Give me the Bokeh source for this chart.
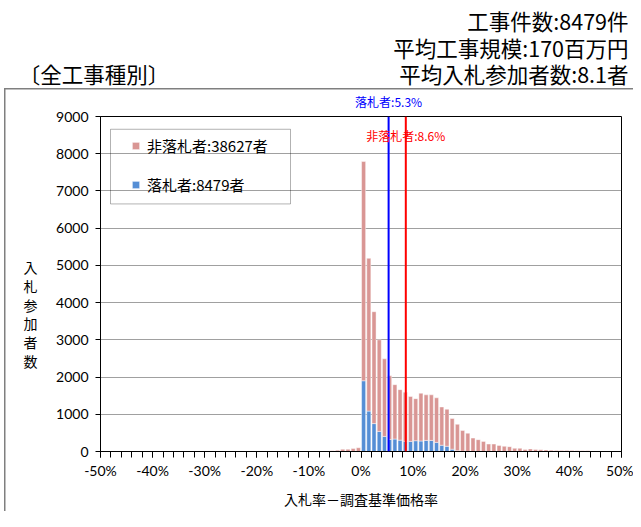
from bokeh.plotting import figure
from bokeh.models import (ColumnDataSource, Range1d, SingleIntervalTicker, PrintfTickFormatter,
                          Legend, LegendItem, Span, Label, BoxAnnotation)
from bokeh.embed import file_html
from bokeh.resources import INLINE

# ---- data ----
bin_start = list(range(-8, 49))  # lower edge of each 1% bin (bid rate - base rate)
winners = [0, 0, 0, 0, 0, 0, 0, 0,
           1900, 1085, 750, 540, 405, 325, 335, 305, 275, 272,
           290, 282, 298, 298, 245, 168, 141, 62, 22, 5,
           0, 0, 0, 0, 0, 0, 0, 0, 0, 0, 0, 0, 0, 0, 0, 0, 0, 0, 0, 0, 0, 0, 0, 0, 0, 0, 0]
losers = [5, 10, 18, 35, 60, 60, 80, 100,
          5890, 4105, 3005, 2460, 2085, 1707, 1460, 1357, 1317, 1206,
          1130, 1283, 1224, 1224, 1197, 1028, 994, 826, 708, 558,
          492, 360, 318, 272, 200, 200, 160, 140, 130, 85, 85, 55, 70, 55, 45, 40, 35,
          30, 25, 25, 25, 20, 20, 20, 15, 5, 5, 15, 15]
win_mean = 5.3
lose_mean = 8.6
n_winners = 8479
n_losers = 38627
title_lines = ["工事件数:8479件", "平均工事規模:170百万円", "平均入札参加者数:8.1者"]
category = "〔全工事種別〕"
y_label = "入札参加者数"
x_label = "入札率－調査基準価格率"

X_MIN, X_MAX = -50, 50
Y_MIN, Y_MAX = 0, 9000

PINK = "#D99694"
BLUE = "#558ED5"
JP = "Noto Sans CJK JP"
NUM = "Lato"
GREY = "#7F7F7F"

# page geometry (pixels)
W, H = 633, 511
FX0, FX1 = 100, 621       # plot frame left/right
FY0, FY1 = 457, 116       # plot frame bottom/top


def dx(px):
    return X_MIN + (px - FX0) * (X_MAX - X_MIN) / (FX1 - FX0)


def dy(py):
    return Y_MIN + (FY0 - py) * (Y_MAX - Y_MIN) / (FY0 - FY1)


src = ColumnDataSource(dict(
    x=[b + 0.5 for b in bin_start],
    win=winners,
    lose=losers,
))

p = figure(width=W, height=H, x_range=Range1d(X_MIN, X_MAX), y_range=Range1d(Y_MIN, Y_MAX),
           output_backend="svg", toolbar_location=None,
           min_border_left=FX0, min_border_right=W - FX1, min_border_top=FY1, min_border_bottom=H - FY0)
p.background_fill_color = "white"
p.border_fill_color = None
p.outline_line_color = "black"
p.outline_line_width = 1
# grey edges of the outer panel (top and left; the others fall outside the picture)
p.styles = {"background": (f"linear-gradient({GREY},{GREY}) 4px 88px / 1.5px 100% no-repeat, "
                           f"linear-gradient({GREY},{GREY}) 4px 88px / 100% 1.5px no-repeat, white")}

rs = p.vbar_stack(["win", "lose"], x="x", width=0.78, fill_color=[BLUE, PINK],
                  line_color="white", line_alpha=0.55, line_width=0.8, source=src)
r_win, r_lose = rs

xt = SingleIntervalTicker(interval=10, num_minor_ticks=5)
yt = SingleIntervalTicker(interval=1000, num_minor_ticks=0)
p.xaxis.ticker = xt
p.yaxis.ticker = yt
p.ygrid.ticker = yt
p.xaxis.formatter = PrintfTickFormatter(format="%d%%")
p.xgrid.visible = False
p.ygrid.grid_line_color = "#404040"
p.ygrid.grid_line_dash = "1 1"
p.ygrid.grid_line_width = 1

for ax in (p.xaxis[0], p.yaxis[0]):
    ax.axis_line_color = "black"
    ax.major_tick_line_color = "black"
    ax.minor_tick_line_color = "black"
    ax.major_tick_in = 0
    ax.minor_tick_in = 0
    ax.major_label_text_font = NUM
    ax.major_label_text_font_size = "14px"
    ax.major_label_text_color = "black"

p.xaxis.major_tick_out = 6
p.xaxis.minor_tick_out = 6
p.xaxis.major_label_standoff = 4
p.yaxis.major_tick_out = 5
p.yaxis.minor_tick_out = 0
p.yaxis.major_label_standoff = 7

p.xaxis.axis_label = x_label
p.xaxis.axis_label_text_font = JP
p.xaxis.axis_label_text_font_size = "14px"
p.xaxis.axis_label_text_font_style = "normal"
p.xaxis.axis_label_text_color = "black"
p.xaxis.axis_label_standoff = 7

# headings: one right-aligned block; the category tag shares the last line
heading_block = "\n".join([title_lines[0], title_lines[1],
                           category + "\u3000" * 11 + "\u2009" + title_lines[2]])
p.add_layout(Label(x=dx(628), y=dy(45.5), text=heading_block, text_align="right",
                   text_baseline="middle", text_font=JP, text_font_size="21.5px",
                   text_line_height=0.851, text_color="black"), "above")

# average lines
p.add_layout(Span(location=win_mean, dimension="height", line_color="#0000FF", line_width=2))
p.add_layout(Span(location=lose_mean, dimension="height", line_color="#FF0000", line_width=2))
p.add_layout(Label(x=win_mean, y=Y_MAX, y_offset=15, text=f"落札者:{win_mean}%",
                   text_align="center", text_baseline="middle", text_font=JP,
                   text_font_size="12px", text_color="#0000FF"), "above")
p.add_layout(Label(x=lose_mean, y=Y_MAX, y_offset=-10, text=f"非落札者:{lose_mean}%",
                   text_align="center", text_baseline="top", text_font=JP,
                   text_font_size="12px", text_color="#FF0000"))

# legend box + legend
p.add_layout(BoxAnnotation(left=dx(110), right=dx(290), top=dy(129), bottom=dy(205),
                           fill_alpha=0, line_color="black", line_width=1))
legend = Legend(items=[LegendItem(label=f"非落札者:{n_losers}者", renderers=[r_lose]),
                       LegendItem(label=f"落札者:{n_winners}者", renderers=[r_win])],
                location=(31, 256), margin=0, padding=8, spacing=18,
                glyph_width=9, glyph_height=9, label_height=20, label_standoff=7,
                label_text_font=JP, label_text_font_size="15px", label_text_color="black",
                border_line_color=None, background_fill_alpha=0)
p.add_layout(legend)

# y label (stacked vertical characters), drawn in the left border
p.add_layout(Label(x=dx(30), y=dy(317), text="\n".join(y_label), text_align="center",
                   text_baseline="middle", text_font=JP, text_font_size="14px",
                   text_line_height=0.94, text_color="black"), "left")

open("out.html", "w").write(file_html(p, INLINE))
